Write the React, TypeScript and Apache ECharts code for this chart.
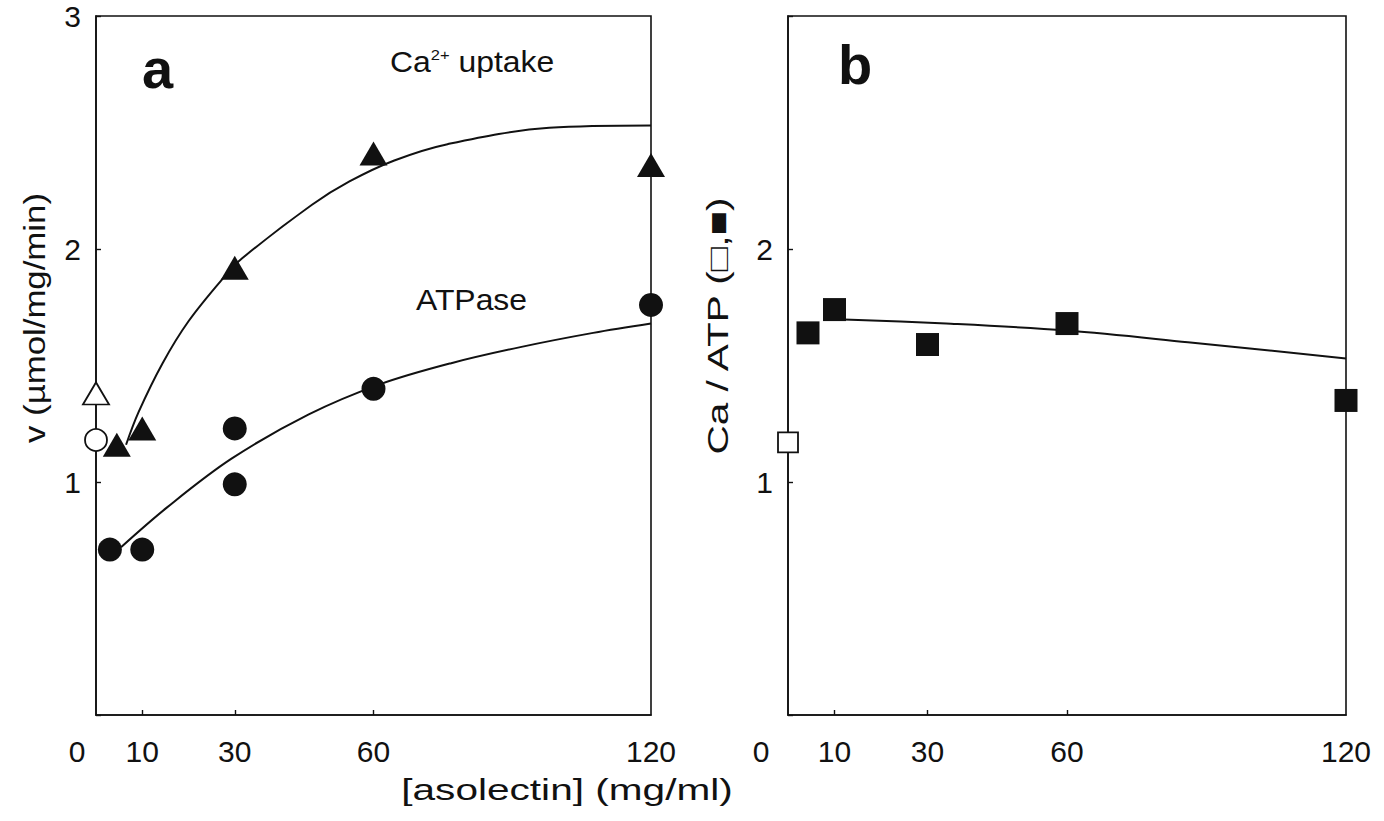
import React, { useEffect, useRef } from "react";
import * as echarts from "echarts";

// Panel a: Ca2+ uptake and ATPase activity vs asolectin concentration
const caOpenPoint = [[0, 1.38]];
const caPoints = [[4.5, 1.16], [10, 1.23], [30, 1.92], [60, 2.41], [120, 2.36]];
const caCurve = [
  [6.5, 1.16], [9.2, 1.3], [14.4, 1.51], [20, 1.69], [27.5, 1.875], [31.6, 1.96],
  [46.7, 2.19], [54.8, 2.29], [64.5, 2.38], [76, 2.45], [98, 2.52], [120, 2.53],
];
const atpOpenPoint = [[0, 1.18]];
const atpPoints = [[3, 0.71], [10, 0.71], [30, 1.23], [30, 0.99], [60, 1.4], [120, 1.76]];
const atpCurve = [
  [5.4, 0.72], [15.3, 0.89], [29.3, 1.1], [46, 1.29], [61.5, 1.42], [76.8, 1.51],
  [92, 1.58], [107.5, 1.64], [120, 1.68],
];

// Panel b: Ca / ATP ratio
const ratioOpenPoint = [[0, 1.17]];
const ratioPoints = [[4.3, 1.64], [10, 1.74], [30, 1.59], [60, 1.68], [120, 1.35]];
const ratioCurve = [[9, 1.7], [34, 1.68], [60, 1.65], [86, 1.6], [120, 1.53]];

const xTickValues = [0, 10, 30, 60, 120];
const xMinorTicks = [10, 30, 60];

const FONT = "Liberation Sans, Arial, Helvetica, sans-serif";
const INK = "#111";

export default function App() {
  const ref = useRef<HTMLDivElement>(null);

  useEffect(() => {
    document.body.style.margin = "0";
    const chart = echarts.init(ref.current!, null, { renderer: "svg" });

    const xAxis = (gridIndex: number, zeroPad: number) => ({
      type: "value",
      gridIndex,
      min: 0,
      max: 120,
      splitLine: { show: false },
      axisLine: { show: true, lineStyle: { color: INK, width: 1.6 } },
      axisTick: {
        show: true,
        inside: true,
        length: 5,
        customValues: xMinorTicks,
        lineStyle: { color: INK, width: 1.4 },
      },
      axisLabel: {
        show: true,
        customValues: xTickValues,
        margin: 21,
        color: INK,
        fontFamily: FONT,
        fontSize: 30,
        formatter: (v: number) => (v === 0 ? "{z|0}" : String(v)),
        rich: {
          z: { padding: [0, zeroPad, 0, 0], fontFamily: FONT, fontSize: 30, color: INK },
        },
      },
    });

    const yAxis = (gridIndex: number, showTop: boolean) => ({
      type: "value",
      gridIndex,
      min: 0,
      max: 3,
      interval: 1,
      splitLine: { show: false },
      axisLine: { show: true, lineStyle: { color: INK, width: 1.6 } },
      axisTick: { show: true, inside: true, length: 5, lineStyle: { color: INK, width: 1.4 } },
      axisLabel: {
        margin: 15,
        color: INK,
        fontFamily: FONT,
        fontSize: 30,
        formatter: (v: number) => (v === 0 || (v === 3 && !showTop) ? "" : String(v)),
      },
    });

    const curve = (data: number[][], xi: number) => ({
      type: "line",
      xAxisIndex: xi,
      yAxisIndex: xi,
      data,
      smooth: 0.35,
      symbol: "none",
      lineStyle: { color: INK, width: 2 },
      z: 2,
    });

    const marks = (data: number[][], xi: number, symbol: string, size: number | number[], filled: boolean) => ({
      type: "scatter",
      xAxisIndex: xi,
      yAxisIndex: xi,
      data,
      symbol,
      symbolSize: size,
      itemStyle: filled
        ? { color: INK, borderColor: INK, borderWidth: 0, opacity: 1 }
        : { color: "#fff", borderColor: INK, borderWidth: 1.8, opacity: 1 },
      z: 3,
    });

    const label = (text: string, x: number, y: number, sx: number, rotate = false, align = "center") => ({
      type: "text",
      x,
      y,
      scaleX: sx,
      rotation: rotate ? Math.PI / 2 : 0,
      style: { text, font: `29px ${FONT}`, fill: INK, align, verticalAlign: "middle" },
    });

    chart.setOption({
      animation: false,
      backgroundColor: "#fff",
      grid: [
        { left: 96, top: 16, width: 555, height: 699, show: true, borderColor: INK, borderWidth: 1.6 },
        { left: 788, top: 16, width: 558, height: 699, show: true, borderColor: INK, borderWidth: 1.6 },
      ],
      xAxis: [xAxis(0, 38), xAxis(1, 54)],
      yAxis: [yAxis(0, true), yAxis(1, false)],
      series: [
        curve(caCurve, 0),
        curve(atpCurve, 0),
        marks(caPoints, 0, "triangle", [28, 24], true),
        marks(caOpenPoint, 0, "triangle", [26, 22], false),
        marks(atpPoints, 0, "circle", 24, true),
        marks(atpOpenPoint, 0, "circle", 22, false),
        curve(ratioCurve, 1),
        marks(ratioPoints, 1, "rect", 23, true),
        marks(ratioOpenPoint, 1, "rect", 20, false),
      ],
      graphic: [
        {
          type: "text",
          x: 142,
          y: 68,
          style: { text: "a", font: `bold 56px ${FONT}`, fill: INK, align: "left", verticalAlign: "middle" },
        },
        {
          type: "text",
          x: 838,
          y: 64,
          style: { text: "b", font: `bold 56px ${FONT}`, fill: INK, align: "left", verticalAlign: "middle" },
        },
        {
          type: "text",
          x: 390,
          y: 62,
          scaleX: 1.1,
          style: {
            text: "{n|Ca}{s|2+}{n| uptake}",
            align: "left",
            verticalAlign: "middle",
            rich: {
              n: { fontFamily: FONT, fontSize: 29, fill: INK, verticalAlign: "bottom" },
              s: { fontFamily: FONT, fontSize: 15, fill: INK, verticalAlign: "top", padding: [0, 0, 14, 0] },
            },
          },
        },
        label("ATPase", 416, 300, 1.1, false, "left"),
        label("v (µmol/mg/min)", 35, 318, 1.2, true),
        label("Ca / ATP (□,■)", 718, 326, 1.4, true),
        label("[asolectin] (mg/ml)", 567, 790, 1.4),
      ],
    });

    return () => chart.dispose();
  }, []);

  return <div ref={ref} style={{ width: 1384, height: 821 }} />;
}
